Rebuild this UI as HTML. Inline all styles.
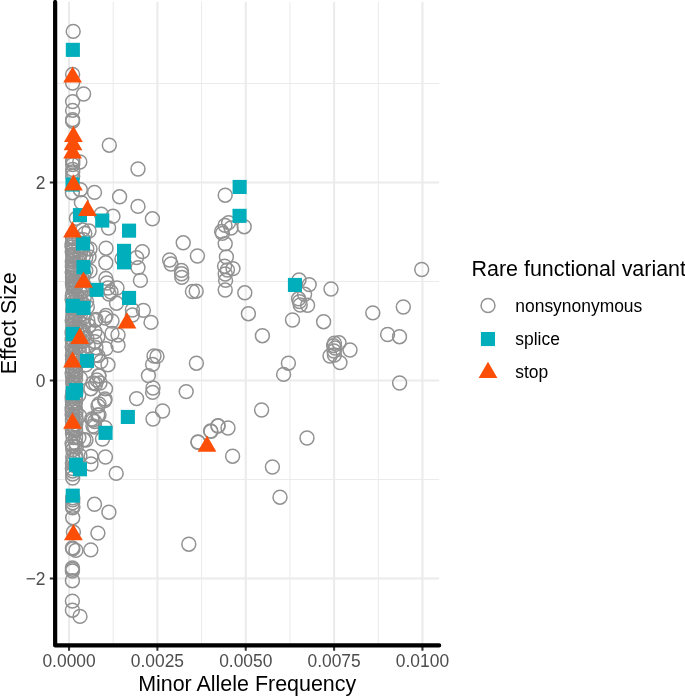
<!DOCTYPE html>
<html><head><meta charset="utf-8"><title>Effect Size vs Minor Allele Frequency</title>
<style>html,body{margin:0;padding:0;background:#fff}svg{display:block}text{font-family:"Liberation Sans",Arial,Helvetica,sans-serif}.c{fill:none;stroke:#929292;stroke-width:1.5}.s{fill:#00AFBB}.t{fill:#FC4E07}.tk{fill:#4d4d4d;font-size:17.4px}.ti{fill:#000;font-size:21.45px}.lg{fill:#000;font-size:17.45px}</style></head><body>
<svg width="685" height="697" viewBox="0 0 685 697">
<rect width="685" height="697" fill="#fff"/>
<path d="M113.22 2.0V645.4M201.57 2.0V645.4M289.93 2.0V645.4M378.27 2.0V645.4M55.15 83.55H439.15M55.15 281.55H439.15M55.15 479.55H439.15" stroke="#ebebeb" stroke-width="1.03" fill="none"/>
<path d="M69.05 2.0V645.4M157.40 2.0V645.4M245.75 2.0V645.4M334.10 2.0V645.4M422.45 2.0V645.4M55.15 182.55H439.15M55.15 380.55H439.15M55.15 578.55H439.15" stroke="#ebebeb" stroke-width="2.07" fill="none"/>
<g class="c">
<circle cx="421.7" cy="269.5" r="6.95"/>
<circle cx="331.0" cy="289.0" r="6.95"/>
<circle cx="309.2" cy="284.6" r="6.95"/>
<circle cx="299.0" cy="280.0" r="6.95"/>
<circle cx="304.6" cy="294.3" r="6.95"/>
<circle cx="298.6" cy="298.8" r="6.95"/>
<circle cx="299.5" cy="301.6" r="6.95"/>
<circle cx="300.2" cy="305.0" r="6.95"/>
<circle cx="307.6" cy="305.3" r="6.95"/>
<circle cx="403.3" cy="307.0" r="6.95"/>
<circle cx="372.8" cy="312.9" r="6.95"/>
<circle cx="292.5" cy="320.0" r="6.95"/>
<circle cx="323.6" cy="321.7" r="6.95"/>
<circle cx="387.6" cy="334.5" r="6.95"/>
<circle cx="399.5" cy="336.7" r="6.95"/>
<circle cx="262.4" cy="335.7" r="6.95"/>
<circle cx="248.4" cy="313.7" r="6.95"/>
<circle cx="244.8" cy="292.8" r="6.95"/>
<circle cx="244.2" cy="226.7" r="6.95"/>
<circle cx="350.0" cy="350.0" r="6.95"/>
<circle cx="340.0" cy="362.6" r="6.95"/>
<circle cx="334.4" cy="343.2" r="6.95"/>
<circle cx="339.0" cy="342.8" r="6.95"/>
<circle cx="333.6" cy="345.6" r="6.95"/>
<circle cx="335.0" cy="348.0" r="6.95"/>
<circle cx="334.0" cy="351.0" r="6.95"/>
<circle cx="330.0" cy="356.0" r="6.95"/>
<circle cx="334.4" cy="355.0" r="6.95"/>
<circle cx="399.6" cy="383.0" r="6.95"/>
<circle cx="288.4" cy="363.2" r="6.95"/>
<circle cx="283.6" cy="374.4" r="6.95"/>
<circle cx="225.2" cy="195.2" r="6.95"/>
<circle cx="228.6" cy="222.6" r="6.95"/>
<circle cx="225.0" cy="225.4" r="6.95"/>
<circle cx="231.0" cy="228.0" r="6.95"/>
<circle cx="221.6" cy="231.4" r="6.95"/>
<circle cx="222.4" cy="233.4" r="6.95"/>
<circle cx="225.2" cy="243.8" r="6.95"/>
<circle cx="226.4" cy="257.0" r="6.95"/>
<circle cx="197.4" cy="256.0" r="6.95"/>
<circle cx="224.6" cy="266.2" r="6.95"/>
<circle cx="233.0" cy="268.6" r="6.95"/>
<circle cx="227.4" cy="270.0" r="6.95"/>
<circle cx="225.2" cy="274.0" r="6.95"/>
<circle cx="225.6" cy="280.4" r="6.95"/>
<circle cx="225.2" cy="290.0" r="6.95"/>
<circle cx="196.2" cy="291.2" r="6.95"/>
<circle cx="192.4" cy="291.5" r="6.95"/>
<circle cx="196.4" cy="363.2" r="6.95"/>
<circle cx="261.6" cy="410.0" r="6.95"/>
<circle cx="218.0" cy="425.8" r="6.95"/>
<circle cx="228.0" cy="428.0" r="6.95"/>
<circle cx="211.0" cy="431.4" r="6.95"/>
<circle cx="198.0" cy="442.2" r="6.95"/>
<circle cx="232.6" cy="456.2" r="6.95"/>
<circle cx="272.4" cy="467.0" r="6.95"/>
<circle cx="307.0" cy="438.0" r="6.95"/>
<circle cx="280.0" cy="497.2" r="6.95"/>
<circle cx="188.8" cy="544.2" r="6.95"/>
<circle cx="73.2" cy="31.4" r="6.95"/>
<circle cx="72.6" cy="74.4" r="6.95"/>
<circle cx="72.6" cy="83.0" r="6.95"/>
<circle cx="83.6" cy="94.0" r="6.95"/>
<circle cx="72.6" cy="101.6" r="6.95"/>
<circle cx="72.6" cy="110.4" r="6.95"/>
<circle cx="72.6" cy="119.6" r="6.95"/>
<circle cx="72.6" cy="121.2" r="6.95"/>
<circle cx="109.3" cy="145.2" r="6.95"/>
<circle cx="79.8" cy="162.0" r="6.95"/>
<circle cx="138.0" cy="169.0" r="6.95"/>
<circle cx="72.7" cy="160.0" r="6.95"/>
<circle cx="72.7" cy="162.0" r="6.95"/>
<circle cx="72.7" cy="164.6" r="6.95"/>
<circle cx="72.7" cy="169.5" r="6.95"/>
<circle cx="72.7" cy="172.0" r="6.95"/>
<circle cx="72.7" cy="176.2" r="6.95"/>
<circle cx="72.4" cy="192.7" r="6.95"/>
<circle cx="80.3" cy="189.7" r="6.95"/>
<circle cx="94.5" cy="192.4" r="6.95"/>
<circle cx="119.6" cy="196.8" r="6.95"/>
<circle cx="81.4" cy="202.6" r="6.95"/>
<circle cx="138.0" cy="206.4" r="6.95"/>
<circle cx="101.3" cy="214.2" r="6.95"/>
<circle cx="113.0" cy="216.3" r="6.95"/>
<circle cx="152.4" cy="218.8" r="6.95"/>
<circle cx="76.4" cy="218.3" r="6.95"/>
<circle cx="108.6" cy="228.0" r="6.95"/>
<circle cx="183.2" cy="242.8" r="6.95"/>
<circle cx="82.8" cy="229.9" r="6.95"/>
<circle cx="84.8" cy="233.4" r="6.95"/>
<circle cx="142.3" cy="251.6" r="6.95"/>
<circle cx="169.6" cy="260.0" r="6.95"/>
<circle cx="171.0" cy="264.0" r="6.95"/>
<circle cx="181.4" cy="270.4" r="6.95"/>
<circle cx="181.6" cy="273.8" r="6.95"/>
<circle cx="181.8" cy="277.4" r="6.95"/>
<circle cx="136.6" cy="257.6" r="6.95"/>
<circle cx="138.0" cy="267.6" r="6.95"/>
<circle cx="140.4" cy="280.4" r="6.95"/>
<circle cx="106.0" cy="248.2" r="6.95"/>
<circle cx="105.8" cy="262.8" r="6.95"/>
<circle cx="105.8" cy="278.4" r="6.95"/>
<circle cx="122.0" cy="259.0" r="6.95"/>
<circle cx="107.0" cy="283.0" r="6.95"/>
<circle cx="108.0" cy="288.0" r="6.95"/>
<circle cx="111.0" cy="292.0" r="6.95"/>
<circle cx="117.0" cy="288.0" r="6.95"/>
<circle cx="109.0" cy="294.0" r="6.95"/>
<circle cx="116.5" cy="303.2" r="6.95"/>
<circle cx="132.4" cy="310.0" r="6.95"/>
<circle cx="143.4" cy="310.4" r="6.95"/>
<circle cx="132.4" cy="315.0" r="6.95"/>
<circle cx="151.0" cy="322.4" r="6.95"/>
<circle cx="106.0" cy="315.5" r="6.95"/>
<circle cx="105.0" cy="318.0" r="6.95"/>
<circle cx="112.0" cy="321.0" r="6.95"/>
<circle cx="96.0" cy="319.5" r="6.95"/>
<circle cx="95.2" cy="320.4" r="6.95"/>
<circle cx="112.0" cy="333.5" r="6.95"/>
<circle cx="118.0" cy="335.0" r="6.95"/>
<circle cx="118.0" cy="345.3" r="6.95"/>
<circle cx="106.0" cy="348.6" r="6.95"/>
<circle cx="154.0" cy="356.0" r="6.95"/>
<circle cx="157.0" cy="356.4" r="6.95"/>
<circle cx="152.6" cy="364.4" r="6.95"/>
<circle cx="108.0" cy="364.8" r="6.95"/>
<circle cx="89.0" cy="231.0" r="6.95"/>
<circle cx="90.0" cy="249.0" r="6.95"/>
<circle cx="89.0" cy="257.0" r="6.95"/>
<circle cx="90.0" cy="271.0" r="6.95"/>
<circle cx="86.8" cy="248.8" r="6.95"/>
<circle cx="85.8" cy="257.7" r="6.95"/>
<circle cx="85.8" cy="270.6" r="6.95"/>
<circle cx="148.4" cy="375.6" r="6.95"/>
<circle cx="153.0" cy="388.0" r="6.95"/>
<circle cx="152.6" cy="392.4" r="6.95"/>
<circle cx="186.2" cy="391.6" r="6.95"/>
<circle cx="136.6" cy="398.6" r="6.95"/>
<circle cx="162.6" cy="411.0" r="6.95"/>
<circle cx="153.0" cy="419.0" r="6.95"/>
<circle cx="198.0" cy="442.0" r="6.95"/>
<circle cx="210.6" cy="431.0" r="6.95"/>
<circle cx="218.0" cy="426.0" r="6.95"/>
<circle cx="116.2" cy="473.4" r="6.95"/>
<circle cx="105.4" cy="457.0" r="6.95"/>
<circle cx="99.0" cy="376.0" r="6.95"/>
<circle cx="97.0" cy="380.0" r="6.95"/>
<circle cx="100.0" cy="383.0" r="6.95"/>
<circle cx="93.0" cy="383.0" r="6.95"/>
<circle cx="105.5" cy="388.8" r="6.95"/>
<circle cx="90.8" cy="388.7" r="6.95"/>
<circle cx="105.0" cy="399.0" r="6.95"/>
<circle cx="99.0" cy="404.0" r="6.95"/>
<circle cx="98.0" cy="406.0" r="6.95"/>
<circle cx="104.7" cy="400.6" r="6.95"/>
<circle cx="99.0" cy="415.0" r="6.95"/>
<circle cx="93.0" cy="420.0" r="6.95"/>
<circle cx="93.0" cy="426.0" r="6.95"/>
<circle cx="105.0" cy="427.6" r="6.95"/>
<circle cx="102.5" cy="439.0" r="6.95"/>
<circle cx="91.0" cy="456.5" r="6.95"/>
<circle cx="91.0" cy="464.0" r="6.95"/>
<circle cx="86.0" cy="440.0" r="6.95"/>
<circle cx="97.7" cy="415.0" r="6.95"/>
<circle cx="91.7" cy="419.0" r="6.95"/>
<circle cx="94.7" cy="421.5" r="6.95"/>
<circle cx="94.7" cy="427.0" r="6.95"/>
<circle cx="83.8" cy="439.8" r="6.95"/>
<circle cx="95.7" cy="355.0" r="6.95"/>
<circle cx="85.8" cy="364.9" r="6.95"/>
<circle cx="98.7" cy="375.8" r="6.95"/>
<circle cx="95.7" cy="383.7" r="6.95"/>
<circle cx="94.5" cy="504.3" r="6.95"/>
<circle cx="108.9" cy="512.2" r="6.95"/>
<circle cx="97.9" cy="533.1" r="6.95"/>
<circle cx="72.7" cy="471.0" r="6.95"/>
<circle cx="72.7" cy="474.0" r="6.95"/>
<circle cx="72.7" cy="478.0" r="6.95"/>
<circle cx="72.7" cy="497.8" r="6.95"/>
<circle cx="72.7" cy="499.8" r="6.95"/>
<circle cx="72.7" cy="502.8" r="6.95"/>
<circle cx="72.7" cy="506.3" r="6.95"/>
<circle cx="72.7" cy="507.8" r="6.95"/>
<circle cx="72.7" cy="517.7" r="6.95"/>
<circle cx="73.4" cy="532.1" r="6.95"/>
<circle cx="72.4" cy="547.9" r="6.95"/>
<circle cx="72.9" cy="548.9" r="6.95"/>
<circle cx="75.9" cy="550.4" r="6.95"/>
<circle cx="90.8" cy="549.9" r="6.95"/>
<circle cx="72.4" cy="567.9" r="6.95"/>
<circle cx="72.5" cy="569.4" r="6.95"/>
<circle cx="72.4" cy="571.0" r="6.95"/>
<circle cx="72.4" cy="580.7" r="6.95"/>
<circle cx="72.4" cy="601.1" r="6.95"/>
<circle cx="72.4" cy="610.2" r="6.95"/>
<circle cx="80.0" cy="616.4" r="6.95"/>
<circle cx="72.5" cy="236.6" r="6.95"/>
<circle cx="72.9" cy="238.6" r="6.95"/>
<circle cx="72.7" cy="241.0" r="6.95"/>
<circle cx="72.2" cy="243.3" r="6.95"/>
<circle cx="72.1" cy="245.3" r="6.95"/>
<circle cx="72.2" cy="247.0" r="6.95"/>
<circle cx="72.6" cy="250.0" r="6.95"/>
<circle cx="72.2" cy="251.4" r="6.95"/>
<circle cx="72.9" cy="254.4" r="6.95"/>
<circle cx="72.8" cy="255.8" r="6.95"/>
<circle cx="73.3" cy="257.4" r="6.95"/>
<circle cx="73.1" cy="259.8" r="6.95"/>
<circle cx="72.3" cy="261.7" r="6.95"/>
<circle cx="72.5" cy="264.7" r="6.95"/>
<circle cx="72.3" cy="266.5" r="6.95"/>
<circle cx="72.9" cy="268.3" r="6.95"/>
<circle cx="72.8" cy="270.0" r="6.95"/>
<circle cx="72.2" cy="272.3" r="6.95"/>
<circle cx="72.9" cy="274.7" r="6.95"/>
<circle cx="72.5" cy="277.0" r="6.95"/>
<circle cx="72.6" cy="278.7" r="6.95"/>
<circle cx="73.1" cy="281.4" r="6.95"/>
<circle cx="72.4" cy="283.3" r="6.95"/>
<circle cx="72.7" cy="284.7" r="6.95"/>
<circle cx="73.0" cy="286.6" r="6.95"/>
<circle cx="73.3" cy="289.3" r="6.95"/>
<circle cx="72.6" cy="293.5" r="6.95"/>
<circle cx="72.3" cy="296.0" r="6.95"/>
<circle cx="72.1" cy="299.3" r="6.95"/>
<circle cx="73.0" cy="302.1" r="6.95"/>
<circle cx="73.2" cy="304.7" r="6.95"/>
<circle cx="72.9" cy="308.2" r="6.95"/>
<circle cx="72.8" cy="310.9" r="6.95"/>
<circle cx="73.1" cy="314.8" r="6.95"/>
<circle cx="72.7" cy="317.3" r="6.95"/>
<circle cx="72.2" cy="320.4" r="6.95"/>
<circle cx="72.9" cy="323.9" r="6.95"/>
<circle cx="73.1" cy="325.6" r="6.95"/>
<circle cx="72.6" cy="329.3" r="6.95"/>
<circle cx="72.1" cy="331.9" r="6.95"/>
<circle cx="72.3" cy="334.3" r="6.95"/>
<circle cx="72.2" cy="338.5" r="6.95"/>
<circle cx="72.3" cy="340.5" r="6.95"/>
<circle cx="72.6" cy="344.7" r="6.95"/>
<circle cx="72.2" cy="346.9" r="6.95"/>
<circle cx="72.8" cy="350.7" r="6.95"/>
<circle cx="73.1" cy="353.5" r="6.95"/>
<circle cx="72.4" cy="355.7" r="6.95"/>
<circle cx="72.5" cy="359.4" r="6.95"/>
<circle cx="73.2" cy="361.0" r="6.95"/>
<circle cx="72.3" cy="364.0" r="6.95"/>
<circle cx="72.4" cy="367.4" r="6.95"/>
<circle cx="72.8" cy="369.9" r="6.95"/>
<circle cx="72.1" cy="373.1" r="6.95"/>
<circle cx="72.5" cy="376.2" r="6.95"/>
<circle cx="73.2" cy="379.3" r="6.95"/>
<circle cx="72.7" cy="382.1" r="6.95"/>
<circle cx="72.9" cy="384.0" r="6.95"/>
<circle cx="73.2" cy="388.2" r="6.95"/>
<circle cx="73.1" cy="391.1" r="6.95"/>
<circle cx="72.6" cy="393.3" r="6.95"/>
<circle cx="72.2" cy="396.6" r="6.95"/>
<circle cx="72.2" cy="398.5" r="6.95"/>
<circle cx="72.4" cy="401.6" r="6.95"/>
<circle cx="72.5" cy="404.3" r="6.95"/>
<circle cx="72.1" cy="407.4" r="6.95"/>
<circle cx="72.2" cy="410.7" r="6.95"/>
<circle cx="72.1" cy="414.5" r="6.95"/>
<circle cx="72.8" cy="416.1" r="6.95"/>
<circle cx="72.4" cy="419.3" r="6.95"/>
<circle cx="72.5" cy="421.8" r="6.95"/>
<circle cx="73.1" cy="426.3" r="6.95"/>
<circle cx="72.7" cy="428.3" r="6.95"/>
<circle cx="72.2" cy="429.0" r="6.95"/>
<circle cx="72.5" cy="433.6" r="6.95"/>
<circle cx="73.1" cy="437.5" r="6.95"/>
<circle cx="72.1" cy="443.7" r="6.95"/>
<circle cx="72.7" cy="445.9" r="6.95"/>
<circle cx="72.8" cy="449.8" r="6.95"/>
<circle cx="72.7" cy="456.4" r="6.95"/>
<circle cx="73.1" cy="459.9" r="6.95"/>
<circle cx="72.4" cy="463.3" r="6.95"/>
<circle cx="72.3" cy="468.5" r="6.95"/>
<circle cx="76.1" cy="282.9" r="6.95"/>
<circle cx="75.7" cy="286.6" r="6.95"/>
<circle cx="76.6" cy="294.6" r="6.95"/>
<circle cx="76.7" cy="299.5" r="6.95"/>
<circle cx="76.6" cy="304.8" r="6.95"/>
<circle cx="75.5" cy="309.6" r="6.95"/>
<circle cx="75.7" cy="313.4" r="6.95"/>
<circle cx="75.1" cy="319.8" r="6.95"/>
<circle cx="75.5" cy="326.6" r="6.95"/>
<circle cx="76.9" cy="331.3" r="6.95"/>
<circle cx="76.9" cy="338.6" r="6.95"/>
<circle cx="76.9" cy="342.1" r="6.95"/>
<circle cx="75.4" cy="347.1" r="6.95"/>
<circle cx="79.2" cy="281.0" r="6.95"/>
<circle cx="80.0" cy="288.8" r="6.95"/>
<circle cx="80.5" cy="292.9" r="6.95"/>
<circle cx="80.1" cy="299.5" r="6.95"/>
<circle cx="79.0" cy="304.5" r="6.95"/>
<circle cx="80.6" cy="310.4" r="6.95"/>
<circle cx="80.3" cy="314.9" r="6.95"/>
<circle cx="79.2" cy="321.5" r="6.95"/>
<circle cx="79.5" cy="327.0" r="6.95"/>
<circle cx="80.7" cy="331.2" r="6.95"/>
<circle cx="79.6" cy="338.5" r="6.95"/>
<circle cx="80.2" cy="341.4" r="6.95"/>
<circle cx="79.1" cy="346.8" r="6.95"/>
<circle cx="84.1" cy="285.2" r="6.95"/>
<circle cx="82.6" cy="291.8" r="6.95"/>
<circle cx="84.3" cy="297.6" r="6.95"/>
<circle cx="83.0" cy="303.7" r="6.95"/>
<circle cx="82.6" cy="308.1" r="6.95"/>
<circle cx="84.2" cy="317.1" r="6.95"/>
<circle cx="83.4" cy="324.7" r="6.95"/>
<circle cx="83.2" cy="330.9" r="6.95"/>
<circle cx="84.0" cy="334.9" r="6.95"/>
<circle cx="82.8" cy="341.7" r="6.95"/>
<circle cx="82.8" cy="349.3" r="6.95"/>
<circle cx="75.2" cy="351.8" r="6.95"/>
<circle cx="75.0" cy="357.0" r="6.95"/>
<circle cx="75.4" cy="359.9" r="6.95"/>
<circle cx="75.7" cy="365.0" r="6.95"/>
<circle cx="75.5" cy="369.0" r="6.95"/>
<circle cx="75.6" cy="372.1" r="6.95"/>
<circle cx="75.6" cy="374.8" r="6.95"/>
<circle cx="75.5" cy="379.2" r="6.95"/>
<circle cx="74.8" cy="384.7" r="6.95"/>
<circle cx="75.1" cy="387.9" r="6.95"/>
<circle cx="76.0" cy="392.1" r="6.95"/>
<circle cx="75.3" cy="396.0" r="6.95"/>
<circle cx="75.7" cy="400.7" r="6.95"/>
<circle cx="75.0" cy="404.1" r="6.95"/>
<circle cx="75.2" cy="407.5" r="6.95"/>
<circle cx="76.0" cy="412.0" r="6.95"/>
<circle cx="75.7" cy="416.6" r="6.95"/>
<circle cx="76.3" cy="419.9" r="6.95"/>
<circle cx="75.8" cy="424.0" r="6.95"/>
<circle cx="75.6" cy="428.5" r="6.95"/>
<circle cx="75.5" cy="430.1" r="6.95"/>
<circle cx="75.6" cy="437.6" r="6.95"/>
<circle cx="75.9" cy="443.4" r="6.95"/>
<circle cx="76.3" cy="447.1" r="6.95"/>
<circle cx="75.7" cy="455.6" r="6.95"/>
<circle cx="76.1" cy="458.7" r="6.95"/>
<circle cx="75.0" cy="465.8" r="6.95"/>
<circle cx="78.9" cy="239.1" r="6.95"/>
<circle cx="78.9" cy="246.6" r="6.95"/>
<circle cx="80.4" cy="253.4" r="6.95"/>
<circle cx="79.1" cy="258.8" r="6.95"/>
<circle cx="80.1" cy="262.7" r="6.95"/>
<circle cx="80.6" cy="271.7" r="6.95"/>
<circle cx="79.2" cy="277.6" r="6.95"/>
<circle cx="79.3" cy="351.8" r="6.95"/>
<circle cx="80.5" cy="378.4" r="6.95"/>
<circle cx="78.8" cy="395.1" r="6.95"/>
<circle cx="79.5" cy="415.9" r="6.95"/>
<circle cx="78.9" cy="437.6" r="6.95"/>
<circle cx="79.9" cy="455.7" r="6.95"/>
<circle cx="83.4" cy="239.7" r="6.95"/>
<circle cx="82.3" cy="247.2" r="6.95"/>
<circle cx="83.5" cy="256.1" r="6.95"/>
<circle cx="82.4" cy="266.3" r="6.95"/>
<circle cx="83.9" cy="274.3" r="6.95"/>
<circle cx="82.5" cy="278.9" r="6.95"/>
<circle cx="86.6" cy="301.5" r="6.95"/>
<circle cx="87.3" cy="307.0" r="6.95"/>
<circle cx="87.8" cy="320.2" r="6.95"/>
<circle cx="89.0" cy="325.7" r="6.95"/>
<circle cx="86.9" cy="338.3" r="6.95"/>
<circle cx="88.2" cy="346.1" r="6.95"/>
<circle cx="94.9" cy="331.8" r="6.95"/>
<circle cx="97.9" cy="336.7" r="6.95"/>
<circle cx="94.9" cy="341.7" r="6.95"/>
<circle cx="95.9" cy="347.7" r="6.95"/>
<circle cx="97.9" cy="355.6" r="6.95"/>
<circle cx="100.8" cy="361.6" r="6.95"/>
</g>
<g class="s">
<rect x="65.8" y="42.8" width="14.1" height="14.1"/>
<rect x="232.6" y="179.9" width="14.1" height="14.1"/>
<rect x="232.5" y="208.8" width="14.1" height="14.1"/>
<rect x="287.9" y="277.9" width="14.1" height="14.1"/>
<rect x="65.5" y="177.5" width="14.1" height="14.1"/>
<rect x="72.9" y="208.1" width="14.1" height="14.1"/>
<rect x="95.2" y="213.5" width="14.1" height="14.1"/>
<rect x="122.0" y="223.6" width="14.1" height="14.1"/>
<rect x="76.0" y="236.4" width="14.1" height="14.1"/>
<rect x="117.0" y="243.8" width="14.1" height="14.1"/>
<rect x="117.0" y="255.3" width="14.1" height="14.1"/>
<rect x="76.4" y="260.1" width="14.1" height="14.1"/>
<rect x="89.5" y="282.8" width="14.1" height="14.1"/>
<rect x="122.0" y="290.9" width="14.1" height="14.1"/>
<rect x="65.7" y="298.8" width="14.1" height="14.1"/>
<rect x="76.5" y="300.9" width="14.1" height="14.1"/>
<rect x="65.7" y="326.9" width="14.1" height="14.1"/>
<rect x="80.0" y="353.8" width="14.1" height="14.1"/>
<rect x="65.7" y="386.1" width="14.1" height="14.1"/>
<rect x="69.0" y="383.1" width="14.1" height="14.1"/>
<rect x="120.8" y="409.9" width="14.1" height="14.1"/>
<rect x="98.5" y="425.8" width="14.1" height="14.1"/>
<rect x="69.0" y="457.6" width="14.1" height="14.1"/>
<rect x="72.9" y="462.2" width="14.1" height="14.1"/>
<rect x="65.7" y="488.6" width="14.1" height="14.1"/>
</g>
<g class="t">
<path d="M72.6 66.4L82.0 82.6H63.2Z"/>
<path d="M73.4 125.8L82.8 142.0H64.0Z"/>
<path d="M73.0 134.0L82.4 150.2H63.6Z"/>
<path d="M72.6 142.3L82.0 158.6H63.2Z"/>
<path d="M73.4 174.2L82.8 190.5H64.0Z"/>
<path d="M87.5 199.8L96.9 216.0H78.1Z"/>
<path d="M72.5 221.2L81.9 237.4H63.1Z"/>
<path d="M83.5 271.5L92.9 287.8H74.1Z"/>
<path d="M127.0 312.2L136.4 328.5H117.6Z"/>
<path d="M79.8 327.6L89.2 343.9H70.4Z"/>
<path d="M72.5 351.3L81.9 367.6H63.1Z"/>
<path d="M72.5 412.4L81.9 428.7H63.1Z"/>
<path d="M207.0 435.4L216.4 451.7H197.6Z"/>
<path d="M73.4 523.9L82.8 540.2H64.0Z"/>
</g>
<path d="M69.05 645.4V650.73M157.40 645.4V650.73M245.75 645.4V650.73M334.10 645.4V650.73M422.45 645.4V650.73M55.15 182.55H49.82M55.15 380.55H49.82M55.15 578.55H49.82" stroke="#333" stroke-width="2.07" fill="none"/>
<path d="M55.15 2.0V645.4H439.15" stroke="#000" stroke-width="4.2" fill="none" stroke-linejoin="round" stroke-linecap="round"/>
<text class="tk" transform="translate(69.05 667.4) scale(1 1.04)" text-anchor="middle">0.0000</text>
<text class="tk" transform="translate(157.40 667.4) scale(1 1.04)" text-anchor="middle">0.0025</text>
<text class="tk" transform="translate(245.75 667.4) scale(1 1.04)" text-anchor="middle">0.0050</text>
<text class="tk" transform="translate(334.10 667.4) scale(1 1.04)" text-anchor="middle">0.0075</text>
<text class="tk" transform="translate(422.45 667.4) scale(1 1.04)" text-anchor="middle">0.0100</text>
<text class="tk" transform="translate(45.5 188.95) scale(1 1.04)" text-anchor="end">2</text>
<text class="tk" transform="translate(45.5 386.95) scale(1 1.04)" text-anchor="end">0</text>
<text class="tk" transform="translate(45.5 584.95) scale(1 1.04)" text-anchor="end">−2</text>
<text class="ti" x="247.2" y="691.4" text-anchor="middle">Minor Allele Frequency</text>
<text class="ti" transform="translate(15.8 323.3) rotate(-90)" text-anchor="middle">Effect Size</text>
<text class="ti" x="471.5" y="275.8">Rare functional variant</text>
<circle class="c" cx="488.0" cy="305.5" r="6.95"/>
<rect class="s" x="480.91" y="331.98" width="14.1" height="14.1"/>
<path class="t" d="M488.0 361.8L497.4 378.0H478.6Z"/>
<text class="lg" x="515.3" y="311.9">nonsynonymous</text>
<text class="lg" x="515.3" y="345.3">splice</text>
<text class="lg" x="515.3" y="378.3">stop</text>
</svg></body></html>
